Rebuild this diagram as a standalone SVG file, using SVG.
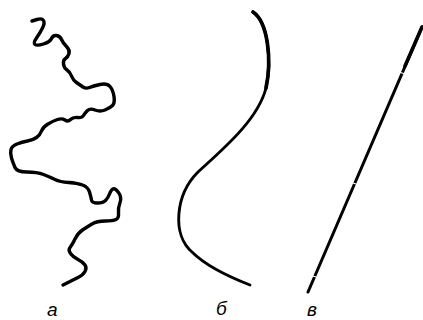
<svg xmlns="http://www.w3.org/2000/svg" width="423" height="320" viewBox="0 0 423 320">
<style>
.ln{fill:none;stroke:#000;stroke-linecap:round;stroke-linejoin:round}
.lbl{font-family:"Liberation Sans","DejaVu Sans",sans-serif;font-style:italic;font-size:19px;fill:#000}
.gap{stroke:#fff;stroke-width:1.2;fill:none}
</style>
<rect width="423" height="320" fill="#fff"/>
<g id="curve-a">
<path class="ln" stroke-width="3.4" d="M32 21 L37 19.5 Q42 18 43.5 20.5 Q45 23 42.5 28 Q40 33 36.5 38 Q33 43 35 44.5 Q37 46 43.5 44 Q50 42 51.5 38.5 Q53 35 56.5 35.5 Q60 36 61.5 39.5 Q63 43 66.5 46.5 Q70 50 69 53.5 Q68 57 65.5 58.5 Q63 60 63.5 64 Q64 68 67 70 Q70 72 71.5 76 Q73 80 76.5 82.5 Q80 85 83 87 Q86 89 89.5 87.5 Q93 86 100 84.5 Q107 83 110 86.5 Q113 90 114 96.5 Q115 103 112.5 105.5 Q110 108 105 110 Q100 112 95 110 Q90 108 87.5 110.5 Q85 113 83.5 115.5 Q82 118 77.5 117.5 Q73 117 70.5 119.5 Q68 122 65 120 Q62 118 57.5 119.5 Q53 121 48 124 Q43 127 41.5 131 Q40 135 36.5 137.5 Q33 140 27.5 141 Q22 142 17 144 Q12 146 11 149.5 Q10 153 11.5 158 Q13 163 15 167.5 Q17 172 27 172 Q37 172 43.5 174.5 Q50 177 55 179.5 Q60 182 68.5 182.5 Q77 183 82.5 185 Q88 187 89.5 192 Q91 197 91.5 200 Q92 203 97.5 203 Q103 203 105.5 200.5 Q108 198 109.5 194 Q111 190 113 189 Q115 188 118.5 192.5 Q122 197 120 202.5 Q118 208 118.5 213 Q119 218 116 219.5 Q113 221 105 221 Q97 221 92 224 Q87 227 82.5 230 Q78 233 75 239 Q72 245 70 247.5 Q68 250 70.5 253.5 Q73 257 78 259.5 Q83 262 85 265 Q87 268 85 271.5 Q83 275 78 277.5 Q73 280 63 285"/>
<text class="lbl" x="47" y="316">а</text>
</g>
<g id="curve-b">
<path class="ln" stroke-width="2.9" d="M253 12 C268 22 272 60 266 88 C258 120 222 150 198 172 C175 195 172 235 192 252 C208 268 232 278 250 285"/>
<path class="ln" stroke-width="3.7" d="M253 12 C268 22 272 60 266 88"/>
<text class="lbl" x="216" y="315">б</text>
</g>
<g id="line-c">
<path class="ln" stroke-width="3" d="M422 27 L308 292"/>
<path class="ln" stroke-width="3.6" d="M422 27 L405 66"/>
<path class="gap" d="M399 72 L405 74"/>
<path class="gap" d="M350 182 L356 184"/>
<path class="gap" d="M310 275 L316 277"/>
<text class="lbl" x="307" y="316">в</text>
</g>
</svg>
